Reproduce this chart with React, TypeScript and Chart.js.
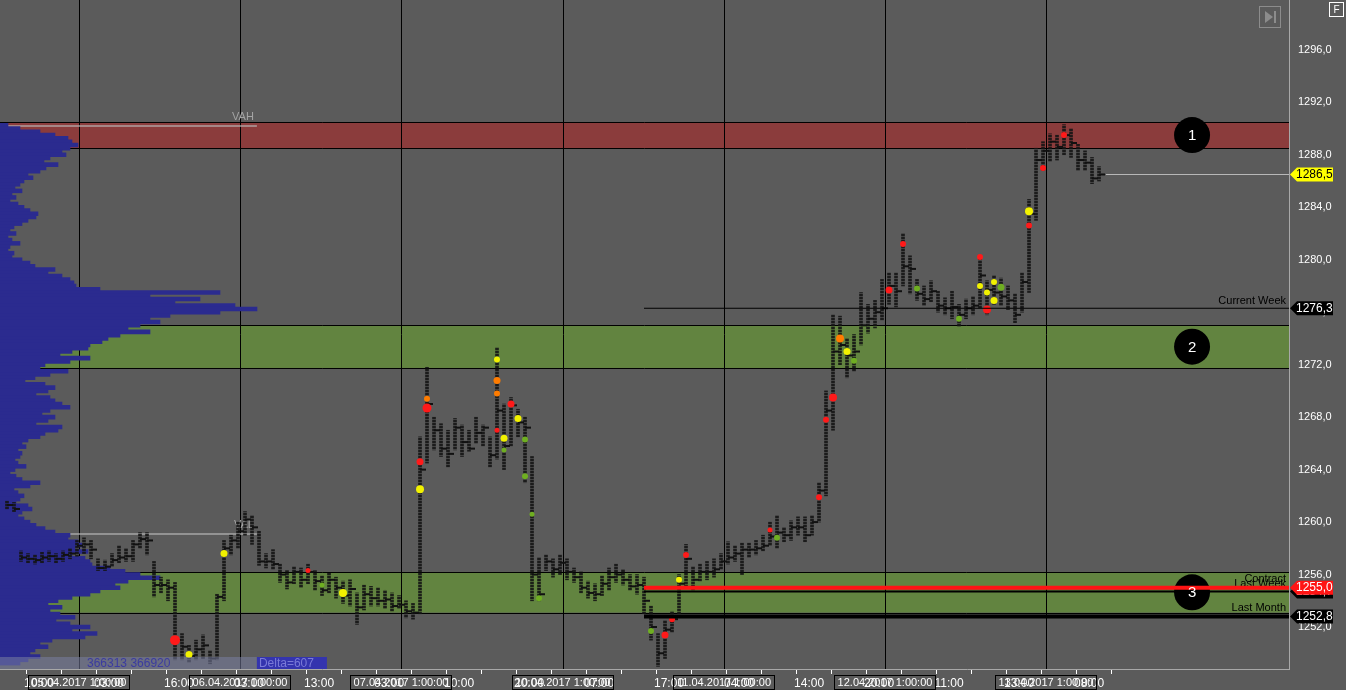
import React, { useEffect, useRef } from 'react';
import { Chart, registerables } from 'chart.js';

Chart.register(...registerables);

// ---------- axes ----------
const Y_MIN = 1248.8;
const Y_MAX = 1299.8;
const X_MIN = 0;
const X_MAX = 184.14;
const yTicks = [1252, 1256, 1260, 1264, 1268, 1272, 1276, 1280, 1284, 1288, 1292, 1296];
const X_TICK_FIRST = 1.29;
const X_TICK_STEP = 5;
const xTickLabels = ['', '10:00', '', '03:00', '', '16:00', '', '03:00', '', '13:00', '', '03:00', '', '10:00', '', '20:00',
  '', '07:00', '', '17:00', '', '04:00', '', '14:00', '', '20:00', '', '11:00', '', '13:00', '', '08:00'];
const dayIdx = [11.29, 34.29, 57.29, 80.43, 103.43, 126.43, 149.43];
const dayLabels = ['05.04.2017 1:00:00', '06.04.2017 1:00:00', '07.04.2017 1:00:00', '10.04.2017 1:00:00',
  '11.04.2017 1:00:00', '12.04.2017 1:00:00', '13.04.2017 1:00:00'];

// ---------- price bars (index 1..157) ----------
const barLow = [1261.0, 1260.8, 1257.0, 1256.9, 1256.8, 1256.9, 1257.0, 1256.9, 1257.0, 1257.2,
  1257.4, 1257.6, 1257.2, 1256.3, 1256.3, 1256.6, 1256.9, 1257.0, 1257.0, 1258.0,
  1257.5, 1254.3, 1254.6, 1254.0, 1249.5, 1249.5, 1249.3, 1249.5, 1249.6, 1249.2,
  1249.5, 1254.0, 1257.5, 1258.0, 1259.0, 1258.3, 1256.7, 1256.5, 1256.4, 1255.4,
  1254.9, 1255.3, 1255.0, 1255.3, 1254.8, 1254.4, 1254.6, 1254.2, 1253.8, 1253.6,
  1252.2, 1253.3, 1253.6, 1253.6, 1253.4, 1253.2, 1253.4, 1252.7, 1252.6, 1253.0,
  1264.5, 1265.5, 1265.0, 1264.2, 1265.5, 1265.0, 1265.4, 1266.0, 1265.8, 1264.2,
  1264.8, 1264.0, 1265.8, 1266.5, 1263.0, 1254.0, 1254.0, 1256.3, 1255.8, 1256.0,
  1255.6, 1255.4, 1254.6, 1254.2, 1254.0, 1254.4, 1254.8, 1255.4, 1255.2, 1254.8,
  1254.5, 1253.0, 1251.0, 1249.0, 1249.6, 1251.6, 1253.0, 1255.0, 1254.8, 1255.5,
  1255.6, 1255.8, 1256.4, 1256.8, 1257.0, 1256.0, 1257.3, 1257.5, 1257.8, 1258.2,
  1258.0, 1258.5, 1258.6, 1259.0, 1258.5, 1259.0, 1260.0, 1262.0, 1267.0, 1272.0,
  1271.0, 1271.5, 1273.5, 1274.4, 1274.8, 1275.4, 1276.6, 1276.4, 1278.0, 1277.4,
  1276.9, 1276.5, 1276.8, 1276.0, 1275.8, 1275.5, 1274.9, 1275.5, 1275.8, 1276.3,
  1275.8, 1276.6, 1276.5, 1276.2, 1275.2, 1276.0, 1277.5, 1283.0, 1286.8, 1287.5,
  1287.6, 1288.0, 1287.8, 1286.8, 1286.8, 1285.8, 1286.0];
const barHigh = [1261.6, 1261.5, 1257.8, 1257.6, 1257.5, 1257.7, 1257.8, 1257.6, 1257.8, 1258.0,
  1258.6, 1258.8, 1258.6, 1257.2, 1257.1, 1257.6, 1258.2, 1258.0, 1258.6, 1259.2,
  1259.2, 1257.0, 1255.8, 1255.6, 1255.4, 1251.5, 1250.6, 1251.0, 1251.4, 1250.2,
  1254.5, 1258.6, 1259.0, 1260.0, 1260.8, 1260.5, 1259.3, 1257.6, 1257.9, 1256.8,
  1256.3, 1256.6, 1256.5, 1256.8, 1256.3, 1255.9, 1256.1, 1255.8, 1255.5, 1255.6,
  1254.6, 1255.2, 1255.1, 1255.0, 1254.8, 1254.6, 1254.4, 1254.0, 1253.8, 1266.5,
  1271.8, 1268.0, 1267.5, 1267.0, 1267.9, 1267.4, 1267.0, 1268.0, 1267.4, 1266.5,
  1273.3, 1269.0, 1269.5, 1268.6, 1268.0, 1265.0, 1257.3, 1257.5, 1257.2, 1257.5,
  1257.2, 1256.5, 1256.2, 1255.5, 1255.3, 1255.9, 1256.5, 1256.8, 1256.4, 1256.0,
  1256.0, 1255.8, 1253.6, 1251.5, 1252.5, 1253.2, 1256.0, 1258.3, 1256.6, 1256.8,
  1257.0, 1257.2, 1257.6, 1258.5, 1258.2, 1258.4, 1258.4, 1258.6, 1259.0, 1260.0,
  1260.5, 1259.6, 1260.1, 1260.4, 1260.4, 1260.5, 1263.0, 1270.0, 1275.8, 1275.7,
  1274.0, 1274.3, 1277.5, 1276.6, 1276.9, 1278.5, 1279.0, 1279.0, 1282.0, 1280.3,
  1278.5, 1278.0, 1278.4, 1277.6, 1277.1, 1277.6, 1276.6, 1277.0, 1277.2, 1280.3,
  1278.4, 1278.8, 1278.6, 1278.0, 1277.4, 1279.0, 1284.6, 1288.5, 1289.0, 1289.6,
  1289.5, 1290.3, 1290.0, 1288.8, 1288.3, 1287.8, 1287.1];
const barClose = [1261.3, 1261.0, 1257.3, 1257.2, 1257.1, 1257.3, 1257.4, 1257.2, 1257.5, 1257.6,
  1258.2, 1258.3, 1257.9, 1256.5, 1256.6, 1257.1, 1257.3, 1257.4, 1258.3, 1258.7,
  1258.6, 1255.2, 1255.2, 1255.0, 1251.0, 1250.5, 1249.8, 1250.3, 1250.6, 1249.6,
  1254.3, 1258.0, 1258.6, 1259.3, 1260.2, 1259.6, 1257.0, 1257.0, 1256.8, 1256.0,
  1255.4, 1256.2, 1255.6, 1256.2, 1255.5, 1254.8, 1255.6, 1255.0, 1254.4, 1254.9,
  1253.5, 1254.5, 1254.2, 1254.0, 1254.1, 1253.6, 1253.7, 1253.2, 1253.1, 1264.0,
  1269.0, 1267.0, 1265.6, 1265.2, 1267.2, 1266.1, 1265.6, 1266.8, 1267.2, 1265.1,
  1268.5, 1265.8, 1268.9, 1267.6, 1267.2, 1256.0, 1254.5, 1257.0, 1256.4, 1256.9,
  1256.2, 1255.8, 1255.0, 1254.6, 1254.5, 1255.3, 1255.8, 1256.0, 1255.6, 1255.1,
  1255.2, 1254.0, 1252.0, 1250.0, 1251.8, 1252.6, 1255.3, 1257.2, 1255.6, 1256.2,
  1256.2, 1256.4, 1257.0, 1257.3, 1257.6, 1257.9, 1257.9, 1258.0, 1258.2, 1258.9,
  1259.2, 1259.0, 1259.6, 1259.6, 1259.0, 1260.0, 1262.4, 1268.5, 1273.0, 1273.5,
  1272.7, 1273.0, 1275.0, 1275.5, 1276.0, 1276.3, 1278.0, 1277.6, 1279.5, 1279.3,
  1277.4, 1277.0, 1277.6, 1276.5, 1276.3, 1276.4, 1275.8, 1276.3, 1276.5, 1278.8,
  1277.7, 1277.5, 1277.2, 1276.9, 1275.8, 1278.3, 1283.5, 1287.6, 1288.3, 1289.0,
  1288.6, 1289.5, 1288.9, 1287.6, 1287.4, 1286.2, 1286.5];

// ---------- footprint hot spots ----------
const hotIdx = [25, 27, 32, 44, 46, 49, 60, 60, 61, 61, 71, 71, 71, 71, 72, 72, 73, 74, 75, 75,
  76, 77, 93, 95, 96, 97, 98, 110, 111, 117, 118, 119, 120, 121, 122, 127, 129, 131, 137, 140,
  140, 141, 141, 142, 142, 143, 147, 147, 149, 152];
const hotPrice = [1251.0, 1249.9, 1257.6, 1256.3, 1255.2, 1254.6, 1264.6, 1262.5, 1268.7, 1269.4,
  1272.4, 1270.8, 1269.8, 1267.0, 1266.4, 1265.5, 1269.0, 1267.9, 1266.3, 1263.5,
  1260.6, 1254.2, 1251.7, 1251.4, 1252.6, 1255.6, 1257.5, 1259.4, 1258.8, 1261.9,
  1267.8, 1269.5, 1274.0, 1273.0, 1272.3, 1277.7, 1281.2, 1277.8, 1275.5, 1280.2,
  1278.0, 1277.5, 1276.2, 1278.3, 1276.9, 1277.9, 1282.6, 1283.7, 1287.0, 1289.5];
const hotKind = ['r', 'y', 'y', 'r', 'g', 'y', 'r', 'y', 'r', 'o', 'y', 'o', 'o', 'r', 'y', 'g', 'r', 'y', 'g', 'g',
  'g', 'g', 'g', 'r', 'r', 'y', 'r', 'r', 'g', 'r', 'r', 'r', 'o', 'y', 'g', 'r', 'r', 'g', 'g', 'r',
  'y', 'y', 'r', 'y', 'y', 'g', 'r', 'y', 'r', 'r'];
const hotSize = [5, 3.5, 3.5, 2.5, 2.5, 4, 3.5, 4, 4.5, 3, 3, 3.5, 3, 2.5, 3.5, 2.5, 3.5, 3.5, 3, 3,
  2.5, 3, 3, 3.5, 3, 3, 3, 2.5, 3, 3, 3, 4, 4, 3.5, 3, 3.5, 3, 3, 3, 3,
  3, 3, 4, 3, 3.5, 3.5, 3, 4, 3, 3];
const hotPalette: Record<string, string> = { r: '#ff1a1a', y: '#f2f200', g: '#6fae22', o: '#ff7c00' };

// ---------- volume profile (top price, step 0.25 down) ----------
const PROFILE_TOP = 1290.25;
const PROFILE_STEP = 0.25;
const PROFILE_MAX = 1289;
const profileVol = [8, 20, 40, 55, 68, 72, 78, 70, 62, 66,
  50, 44, 58, 46, 40, 28, 33, 24, 20, 15,
  22, 12, 16, 10, 18, 24, 30, 38, 36, 28,
  22, 14, 10, 16, 8, 12, 20, 10, 8, 14,
  12, 22, 30, 35, 55, 48, 62, 70, 74, 76,
  100, 220, 150, 200, 175, 235, 257, 220, 170, 150,
  160, 140, 128, 150, 120, 108, 102, 90, 88, 72,
  60, 90, 70, 45, 40, 68, 50, 35, 25, 45,
  55, 48, 36, 50, 55, 62, 70, 50, 42, 55,
  48, 36, 62, 58, 45, 40, 28, 22, 26, 18,
  22, 20, 15, 18, 26, 15, 10, 16, 22, 40,
  30, 14, 18, 24, 20, 16, 28, 32, 22, 18,
  24, 30, 36, 45, 55, 70, 68, 78, 82, 75,
  88, 72, 85, 90, 92, 110, 125, 140, 160, 128,
  115, 120, 100, 90, 72, 58, 48, 62, 50, 60,
  75, 56, 70, 90, 72, 97, 85, 52, 40, 48,
  35, 30, 40, 28, 20];
const VAH = 1290.2;
const VAL = 1259.1;
const PANEL_END_IDX = 36.7;

// ---------- zones & levels ----------
const zoneLow = [1288.5, 1271.75, 1253.1];
const zoneHigh = [1290.5, 1275.0, 1256.2];
const zoneColor = ['#8b3c3c', '#628440', '#628440'];
const zoneNumber = ['1', '2', '3'];
const MARKER_IDX = 170.29;

const levelName = ['Current Week', 'Last Week', 'Contract', 'Last Month'];
const levelPrice = [1276.3, 1254.7, 1255.0, 1252.8];
const levelColor = ['#000000', '#000000', '#ff1414', '#000000'];
const levelWidth = [1, 2, 4, 4];
const LEVEL_START_IDX = 92;
const LAST_PRICE = 1286.5;

const BG = '#5b5b5b';
const FONT = '11px "Liberation Sans", Arial, sans-serif';
const PLOT_H = 669;

const fmt = (v: number) => v.toFixed(1).replace('.', ',');

function tag(ctx: CanvasRenderingContext2D, left: number, yp: number, text: string, fill: string, color: string) {
  ctx.beginPath();
  ctx.moveTo(left + 1, yp);
  ctx.lineTo(left + 8, yp - 7);
  ctx.lineTo(left + 44, yp - 7);
  ctx.lineTo(left + 44, yp + 7);
  ctx.lineTo(left + 8, yp + 7);
  ctx.closePath();
  ctx.fillStyle = fill;
  ctx.fill();
  ctx.fillStyle = color;
  ctx.font = '12px "Liberation Sans", Arial, sans-serif';
  ctx.textAlign = 'left';
  ctx.textBaseline = 'middle';
  ctx.fillText(text, left + 7, yp + 0.5);
}

function pe(x: any) {
  return x.getPixelForValue(PANEL_END_IDX);
}

function dottedPattern(): CanvasPattern | string {
  const c = document.createElement('canvas');
  c.width = 3;
  c.height = 3;
  const g = c.getContext('2d');
  if (!g) return 'rgba(24,24,24,0.8)';
  g.fillStyle = 'rgba(20,20,20,0.9)';
  g.fillRect(0, 0, 3, 2);
  g.fillStyle = 'rgba(20,20,20,0.35)';
  g.fillRect(0, 2, 3, 1);
  const p = g.createPattern(c, 'repeat');
  return p || 'rgba(24,24,24,0.8)';
}

const bgPlugin = {
  id: 'bg',
  beforeDraw(chart: any) {
    const { ctx, width, height } = chart;
    ctx.save();
    ctx.fillStyle = BG;
    ctx.fillRect(0, 0, width, height);
    ctx.restore();
  },
};

const decoPlugin = {
  id: 'deco',
  beforeDatasetsDraw(chart: any) {
    const { ctx, chartArea: a, scales } = chart;
    const x = scales.x, y = scales.y;
    ctx.save();
    zoneLow.forEach((lo, k) => {
      const t = y.getPixelForValue(zoneHigh[k]);
      const b = y.getPixelForValue(lo);
      ctx.fillStyle = zoneColor[k];
      ctx.fillRect(a.left, t, a.right - a.left, b - t);
      ctx.strokeStyle = '#000';
      ctx.lineWidth = 1;
      ctx.beginPath();
      ctx.moveTo(a.left, Math.round(t) + 0.5); ctx.lineTo(a.right, Math.round(t) + 0.5);
      ctx.moveTo(a.left, Math.round(b) + 0.5); ctx.lineTo(a.right, Math.round(b) + 0.5);
      ctx.stroke();
    });
    ctx.strokeStyle = '#000';
    ctx.lineWidth = 1;
    ctx.beginPath();
    dayIdx.forEach((d) => {
      const px = Math.round(x.getPixelForValue(d)) + 0.5;
      ctx.moveTo(px, a.top); ctx.lineTo(px, a.bottom);
    });
    ctx.stroke();
    const end = pe(x);
    [[VAH, 'VAH'], [VAL, 'VAL']].forEach(([p, name]) => {
      const yp = y.getPixelForValue(p as number);
      ctx.strokeStyle = 'rgba(185,185,185,0.8)';
      ctx.lineWidth = 1.5;
      ctx.beginPath();
      ctx.moveTo(a.left, yp); ctx.lineTo(end, yp);
      ctx.stroke();
      ctx.fillStyle = '#a4a4a4';
      ctx.font = FONT;
      ctx.textAlign = 'right';
      ctx.textBaseline = 'bottom';
      ctx.fillText(name as string, end - 3, yp - 3);
    });
    ctx.restore();
  },
  afterDatasetsDraw(chart: any) {
    const { ctx, chartArea: a, scales } = chart;
    const x = scales.x, y = scales.y;
    ctx.save();
    const xs = x.getPixelForValue(LEVEL_START_IDX);
    ctx.font = FONT;
    ctx.fillStyle = '#000';
    ctx.textAlign = 'right';
    ctx.textBaseline = 'bottom';
    levelName.forEach((n, k) => {
      const yp = y.getPixelForValue(levelPrice[k]);
      ctx.fillText(n, a.right - 3, yp - levelWidth[k] / 2 - 1);
    });
    levelName.forEach((n, k) => {
      const yp = y.getPixelForValue(levelPrice[k]);
      ctx.strokeStyle = levelColor[k];
      ctx.lineWidth = levelWidth[k];
      ctx.beginPath();
      ctx.moveTo(xs, yp); ctx.lineTo(a.right, yp);
      ctx.stroke();
    });
    const lp = Math.round(y.getPixelForValue(LAST_PRICE)) + 0.5;
    ctx.strokeStyle = '#b8b8b8';
    ctx.lineWidth = 1;
    ctx.beginPath();
    ctx.moveTo(x.getPixelForValue(barClose.length + 1), lp); ctx.lineTo(a.right, lp);
    ctx.stroke();
    ctx.fillStyle = '#fff';
    ctx.font = '15px "Liberation Sans", Arial, sans-serif';
    ctx.textAlign = 'center';
    ctx.textBaseline = 'middle';
    zoneLow.forEach((lo, k) => {
      ctx.fillText(zoneNumber[k], x.getPixelForValue(MARKER_IDX), y.getPixelForValue((lo + zoneHigh[k]) / 2) + 1);
    });
    const ib = a.bottom - 12;
    const end = pe(x);
    ctx.fillStyle = 'rgba(120,125,160,0.55)';
    ctx.fillRect(a.left, ib, end - a.left, 12);
    ctx.fillStyle = '#3b3ba0';
    ctx.font = '12px "Liberation Sans", Arial, sans-serif';
    ctx.textAlign = 'left';
    ctx.fillText('366313 366920', a.left + 87, ib + 6.5);
    ctx.fillStyle = '#3434ae';
    ctx.fillRect(end, ib, 70, 12);
    ctx.fillStyle = '#7a7ad8';
    ctx.fillText('Delta=607', end + 2, ib + 6.5);
    ctx.restore();
  },
  afterDraw(chart: any) {
    const { ctx, chartArea: a, scales, width } = chart;
    const x = scales.x, y = scales.y;
    ctx.save();
    ctx.font = FONT;
    dayIdx.forEach((d, k) => {
      const px = Math.round(x.getPixelForValue(d));
      ctx.strokeStyle = '#000';
      ctx.lineWidth = 1;
      ctx.strokeRect(px - 50.5, a.bottom + 6.5, 101, 14);
      ctx.fillStyle = '#fff';
      ctx.textAlign = 'center';
      ctx.textBaseline = 'middle';
      ctx.fillText(dayLabels[k], px, a.bottom + 14);
    });
    levelName.forEach((n, k) => {
      const yp = y.getPixelForValue(levelPrice[k]);
      tag(ctx, a.right, yp, fmt(levelPrice[k]), levelColor[k], '#fff');
    });
    tag(ctx, a.right, y.getPixelForValue(LAST_PRICE), fmt(LAST_PRICE), '#ffff00', '#000');
    ctx.strokeStyle = '#8c8c8c';
    ctx.lineWidth = 1;
    ctx.strokeRect(a.right - 29.5, 6.5, 21, 21);
    ctx.fillStyle = '#8c8c8c';
    ctx.beginPath();
    ctx.moveTo(a.right - 24, 11); ctx.lineTo(a.right - 16, 17); ctx.lineTo(a.right - 24, 23); ctx.closePath();
    ctx.fill();
    ctx.fillRect(a.right - 15, 11, 2, 12);
    ctx.strokeStyle = '#fff';
    ctx.strokeRect(width - 16.5, 2.5, 14, 14);
    ctx.fillStyle = '#fff';
    ctx.font = '10px "Liberation Sans", Arial, sans-serif';
    ctx.textAlign = 'center';
    ctx.textBaseline = 'middle';
    ctx.fillText('F', width - 9.5, 10);
    ctx.restore();
  },
};

export default function App() {
  const ref = useRef<HTMLCanvasElement>(null);
  useEffect(() => {
    document.body.style.margin = '0';
    const canvas = ref.current;
    if (!canvas) return;
    const candleData = barLow.map((lo, k) => ({ x: k + 1, y: [lo, barHigh[k]] }));
    const closeData = barClose.map((c, k) => ({ x: k + 1 + 0.43, y: c }));
    const profileData = profileVol.map((v, k) => ({ x: v, y: PROFILE_TOP - k * PROFILE_STEP }));
    const hotData = hotIdx.map((xi, k) => ({ x: xi, y: hotPrice[k] }));
    const markerData = zoneLow.map((lo, k) => ({ x: MARKER_IDX, y: (lo + zoneHigh[k]) / 2 }));
    const profileThickness = (PROFILE_STEP / (Y_MAX - Y_MIN)) * PLOT_H + 0.6;

    const chart = new Chart(canvas, {
      type: 'bar',
      data: {
        datasets: [
          {
            type: 'bar', label: 'profile', data: profileData as any, indexAxis: 'y', xAxisID: 'xv', yAxisID: 'y',
            backgroundColor: '#2b2b8f', borderWidth: 0, grouped: false, barThickness: profileThickness, order: 5,
          } as any,
          {
            type: 'bar', label: 'bars', data: candleData as any, xAxisID: 'x', yAxisID: 'y',
            backgroundColor: dottedPattern(), borderWidth: 0, grouped: false, barThickness: 3, order: 4,
          } as any,
          {
            type: 'scatter', label: 'close', data: closeData, xAxisID: 'x', yAxisID: 'y',
            pointStyle: 'line', pointRadius: 3, borderColor: '#111', borderWidth: 2, order: 3,
          } as any,
          {
            type: 'scatter', label: 'hot', data: hotData, xAxisID: 'x', yAxisID: 'y',
            pointRadius: hotSize, backgroundColor: hotKind.map((h) => hotPalette[h]), borderWidth: 0, order: 2,
          } as any,
          {
            type: 'scatter', label: 'markers', data: markerData, xAxisID: 'x', yAxisID: 'y',
            pointRadius: 18, backgroundColor: '#000', borderWidth: 0, order: 1,
          } as any,
        ],
      },
      options: {
        responsive: false,
        animation: false,
        devicePixelRatio: 1,
        events: [],
        layout: { padding: 0, autoPadding: false },
        plugins: { legend: { display: false }, tooltip: { enabled: false }, title: { display: false } },
        scales: {
          x: {
            type: 'linear', axis: 'x', position: 'bottom', min: X_MIN, max: X_MAX, offset: false,
            grid: { display: true, drawOnChartArea: false, drawTicks: true, tickLength: 5, tickColor: '#ffffff', tickWidth: 1 },
            border: { display: true, color: '#a8a8a8' },
            ticks: {
              autoSkip: false, maxRotation: 0, minRotation: 0, color: '#ffffff', padding: 2, labelOffset: -5,
              font: { family: '"Liberation Sans", Arial, sans-serif', size: 12 },
              callback: (_v: any, i: number) => xTickLabels[i] ?? '',
            },
            afterBuildTicks: (s: any) => { s.ticks = xTickLabels.map((_, k) => ({ value: X_TICK_FIRST + k * X_TICK_STEP })); },
            afterFit: (s: any) => { s.height = 21; s.paddingLeft = 0; s.paddingRight = 0; },
          } as any,
          xv: { type: 'linear', axis: 'x', position: 'bottom', display: false, min: 0, max: PROFILE_MAX, offset: false } as any,
          y: {
            type: 'linear', axis: 'y', position: 'right', min: Y_MIN, max: Y_MAX, offset: false,
            grid: { display: false, drawTicks: false },
            border: { display: true, color: '#a8a8a8' },
            ticks: {
              color: '#ffffff', padding: 9,
              font: { family: '"Liberation Sans", Arial, sans-serif', size: 11 },
              callback: (v: any) => fmt(Number(v)),
            },
            afterBuildTicks: (s: any) => { s.ticks = yTicks.map((v) => ({ value: v })); },
            afterFit: (s: any) => { s.width = 57; s.paddingTop = 0; s.paddingBottom = 0; },
          } as any,
        },
      },
      plugins: [bgPlugin, decoPlugin],
    });
    return () => chart.destroy();
  }, []);

  return (
    <div style={{ position: 'fixed', left: 0, top: 0, width: 1346, height: 690 }}>
      <canvas ref={ref} width={1346} height={690} style={{ display: 'block', width: 1346, height: 690 }} />
    </div>
  );
}
